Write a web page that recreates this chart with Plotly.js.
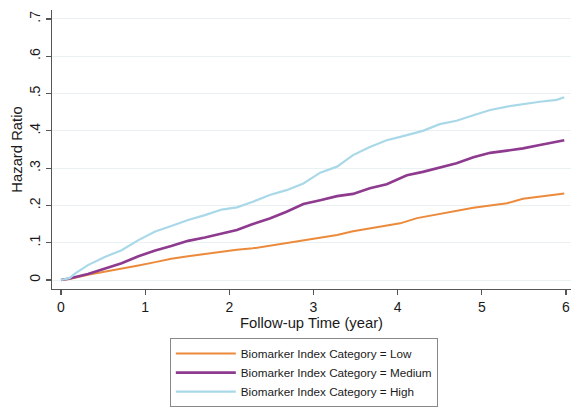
<!DOCTYPE html>
<html>
<head>
<meta charset="utf-8">
<script src="https://cdn.plot.ly/plotly-3.0.1.min.js"></script>
<style>html,body{margin:0;padding:0;background:#fff;}#chart{width:571px;height:408px;}</style>
</head>
<body>
<div id="chart"></div>
<script>
// Follow-up time (years) and cumulative hazard values
const lowX = [0, 0.1, 0.32, 0.52, 0.72, 0.92, 1.12, 1.31, 1.51, 1.71, 1.91, 2.09, 2.28, 2.48, 2.68, 2.88, 3.08, 3.28, 3.47, 3.67, 3.87, 4.03, 4.23, 4.50, 4.70, 4.90, 5.10, 5.30, 5.49, 5.69, 5.89, 5.98];
const lowY = [0, 0.003, 0.014, 0.022, 0.029, 0.039, 0.048, 0.057, 0.064, 0.070, 0.076, 0.081, 0.085, 0.092, 0.099, 0.106, 0.113, 0.121, 0.131, 0.138, 0.145, 0.152, 0.166, 0.178, 0.187, 0.194, 0.200, 0.206, 0.218, 0.224, 0.228, 0.232];

const medX = [0, 0.1, 0.32, 0.52, 0.72, 0.92, 1.12, 1.31, 1.51, 1.71, 1.91, 2.09, 2.28, 2.48, 2.68, 2.88, 3.08, 3.28, 3.47, 3.67, 3.87, 4.03, 4.11, 4.30, 4.50, 4.70, 4.90, 5.10, 5.30, 5.49, 5.69, 5.89, 5.98];
const medY = [0, 0.004, 0.016, 0.031, 0.045, 0.064, 0.079, 0.091, 0.105, 0.114, 0.124, 0.134, 0.150, 0.165, 0.183, 0.204, 0.214, 0.225, 0.231, 0.246, 0.257, 0.272, 0.281, 0.290, 0.302, 0.313, 0.329, 0.341, 0.347, 0.353, 0.362, 0.371, 0.375];

const highX = [0, 0.1, 0.17, 0.32, 0.52, 0.72, 0.92, 1.12, 1.31, 1.51, 1.71, 1.91, 2.09, 2.28, 2.48, 2.68, 2.88, 3.08, 3.28, 3.47, 3.67, 3.87, 4.03, 4.11, 4.30, 4.50, 4.70, 4.90, 5.10, 5.30, 5.49, 5.69, 5.89, 5.98];
const highY = [0, 0.005, 0.018, 0.040, 0.062, 0.080, 0.107, 0.130, 0.145, 0.161, 0.174, 0.189, 0.195, 0.210, 0.228, 0.241, 0.259, 0.288, 0.304, 0.335, 0.357, 0.375, 0.384, 0.389, 0.400, 0.418, 0.427, 0.442, 0.456, 0.465, 0.472, 0.478, 0.483, 0.490];

const seriesNames = ["Biomarker Index Category = Low", "Biomarker Index Category = Medium", "Biomarker Index Category = High"];
const xTickVals = [0, 1, 2, 3, 4, 5, 6];
const xTickText = ["0", "1", "2", "3", "4", "5", "6"];
const yTickVals = [0, 0.1, 0.2, 0.3, 0.4, 0.5, 0.6, 0.7];
const yTickText = ["0", ".1", ".2", ".3", ".4", ".5", ".6", ".7"];

const FONT = "Liberation Sans, Arial, Helvetica, sans-serif";

const traces = [
  {x: lowX, y: lowY, name: seriesNames[0], mode: "lines", line: {color: "#ec8a3c", width: 2, shape: "linear"}},
  {x: medX, y: medY, name: seriesNames[1], mode: "lines", line: {color: "#8e3a8e", width: 2.6, shape: "linear"}},
  {x: highX, y: highY, name: seriesNames[2], mode: "lines", line: {color: "#a9d8e8", width: 2.2, shape: "linear"}}
];

const layout = {
  width: 571, height: 408,
  margin: {l: 52, r: 0, t: 10, b: 119, pad: 0},
  paper_bgcolor: "#ffffff", plot_bgcolor: "#ffffff",
  font: {family: FONT, color: "#1a1a1a", size: 14},
  showlegend: true,
  xaxis: {
    range: [-0.107, 6.06], tickvals: xTickVals, ticktext: xTickText,
    showline: true, linecolor: "#555", linewidth: 1.3, mirror: false,
    ticks: "outside", ticklen: 5, tickcolor: "#555", tickwidth: 1.2,
    showgrid: false, zeroline: false,
    tickfont: {family: FONT, size: 14, color: "#1a1a1a"},
    title: {text: "Follow-up Time (year)", font: {family: FONT, size: 14.8, color: "#1a1a1a"}, standoff: 2}
  },
  yaxis: {
    range: [-0.024, 0.724], tickvals: yTickVals, ticktext: yTickText,
    showline: true, linecolor: "#555", linewidth: 1.3,
    ticks: "outside", ticklen: 5, tickcolor: "#555", tickwidth: 1.2,
    showgrid: true, gridcolor: "#e9f1f3", gridwidth: 1, zeroline: false,
    tickangle: -90,
    tickfont: {family: FONT, size: 14, color: "#1a1a1a"},
    title: {text: "Hazard Ratio", font: {family: FONT, size: 14.8, color: "#1a1a1a"}, standoff: 1}
  },
  legend: {
    x: 0.227, xanchor: "left", y: -0.176, yanchor: "top",
    bordercolor: "#888", borderwidth: 1, bgcolor: "#fff",
    font: {family: FONT, size: 11.7, color: "#1a1a1a"},
    itemwidth: 60, tracegroupgap: 0,
    entrywidth: 281, entrywidthmode: "pixels",
    traceorder: "normal"
  }
};

Plotly.newPlot("chart", traces, layout, {displayModeBar: false, staticPlot: true});
</script>
</body>
</html>
